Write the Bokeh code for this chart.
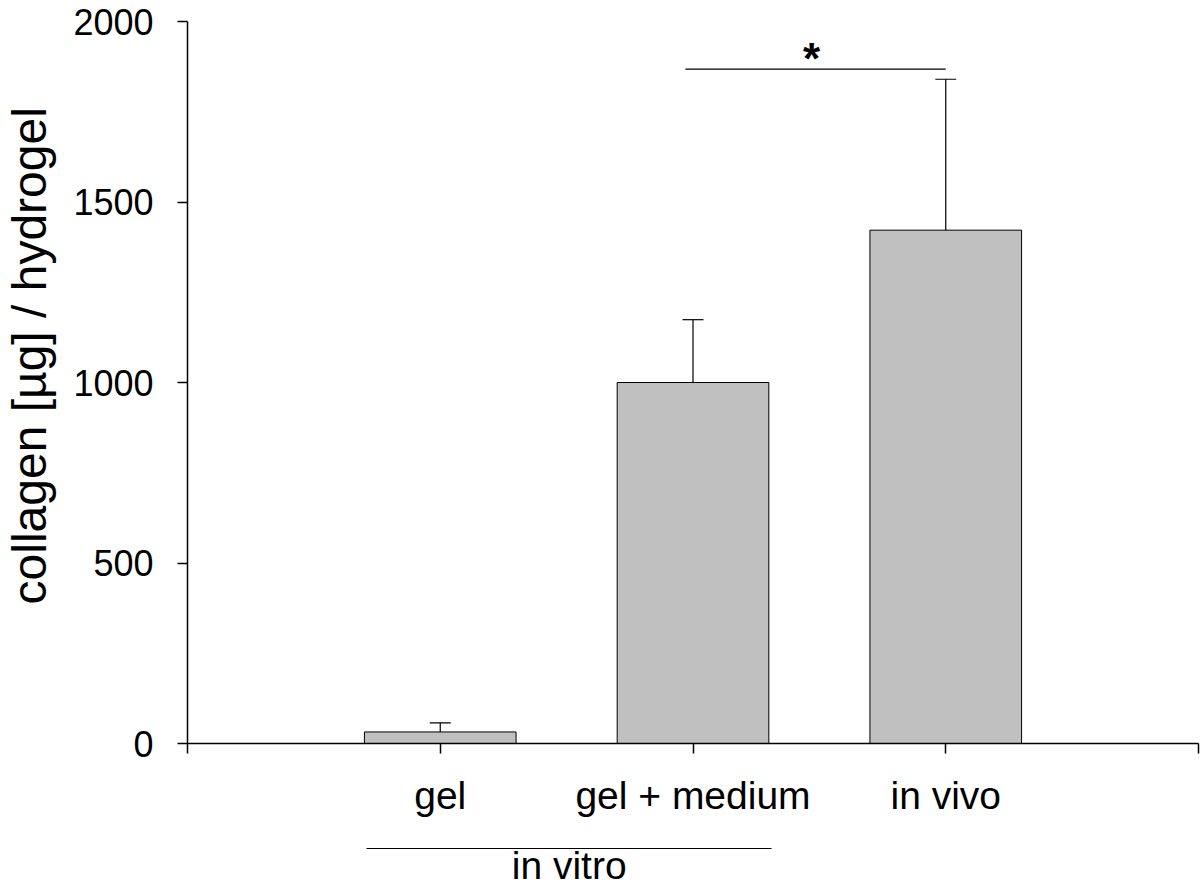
from bokeh.plotting import figure
from bokeh.models import (ColumnDataSource, FixedTicker, LinearAxis, Range1d,
                          Whisker, TeeHead)
from bokeh.core.properties import value
from bokeh.embed import file_html
from bokeh.resources import INLINE

# ---- data ----
categories = ["gel", "gel + medium", "in vivo"]
means = [32, 1000, 1422]
errors = [25, 174, 418]
y_ticks = [0, 500, 1000, 1500, 2000]
y_title = "collagen [µg] / hydrogel"
group_label = "in vitro"
group_bounds = (0.71, 2.31)
sig_x = [1.97, 3.0]
sig_y = 1868
sig_mark = "*"

FONT = "Liberation Sans"

xs = [i + 1 for i in range(len(categories))]
src = ColumnDataSource(dict(
    x=xs, top=means, upper=[m + e for m, e in zip(means, errors)]))

p = figure(width=1200, height=889, output_backend="svg", toolbar_location=None,
           x_range=Range1d(0, len(categories) + 1), y_range=Range1d(0, 2000),
           min_border_left=187, min_border_top=21, min_border_right=2,
           min_border_bottom=0, x_axis_location=None, y_axis_location=None)
p.outline_line_color = None
p.xgrid.visible = False
p.ygrid.visible = False
p.background_fill_color = "white"
p.border_fill_color = "white"

p.vbar(x="x", top="top", width=0.6, bottom=0, source=src,
       fill_color="#c0c0c0", line_color="black", line_width=1)

p.add_layout(Whisker(source=src, base="x", upper="upper", lower="top",
                     line_color="black", line_width=1.2,
                     upper_head=TeeHead(size=21, line_color="black", line_width=1.2),
                     lower_head=None))

# significance bracket
p.line(x=sig_x, y=[sig_y, sig_y], line_color="black", line_width=1.2)
p.text(x=[(sig_x[0] + sig_x[1]) / 2], y=[sig_y], text=[sig_mark],
       text_font=value(FONT), text_font_size="44px", text_font_style="bold",
       text_align="center", text_baseline="alphabetic", x_offset=-4, y_offset=-11,
       text_color="black")

def style_axis(ax, size):
    ax.axis_line_color = "black"
    ax.axis_line_width = 1.5
    ax.major_tick_line_color = "black"
    ax.major_tick_line_width = 1.5
    ax.major_tick_in = 0
    ax.major_tick_out = 10
    ax.minor_tick_line_color = None
    ax.major_label_text_font = FONT
    ax.major_label_text_font_size = size
    ax.major_label_text_color = "black"
    ax.axis_label_text_font = FONT
    ax.axis_label_text_font_style = "normal"
    ax.axis_label_text_color = "black"

# y axis (title shifted slightly upward with leading no-break spaces)
yax = LinearAxis(ticker=FixedTicker(ticks=y_ticks),
                 axis_label="\u00a0" * 4 + y_title)
style_axis(yax, "36px")
yax.major_label_standoff = 24
yax.axis_label_text_font_size = "48px"
yax.axis_label_standoff = 14
p.add_layout(yax, "left")

# x axis
xax = LinearAxis(ticker=FixedTicker(ticks=list(range(len(categories) + 2))))
style_axis(xax, "39px")
overrides = {0: "", len(categories) + 1: ""}
for i, c in enumerate(categories):
    overrides[i + 1] = c
xax.major_label_overrides = overrides
xax.major_label_standoff = 20
xax.axis_label = "\u00a0"
xax.axis_label_text_font_size = "23px"
xax.axis_label_standoff = 0
p.add_layout(xax, "below")

# group ("in vitro") axis
mid = (group_bounds[0] + group_bounds[1]) / 2
gax = LinearAxis(ticker=FixedTicker(ticks=[mid]), bounds=group_bounds)
style_axis(gax, "39px")
gax.axis_line_width = 1.2
gax.major_tick_out = 0
gax.major_label_standoff = -5
gax.major_label_overrides = {mid: group_label}
p.add_layout(gax, "below")

open("out.html", "w").write(file_html(p, INLINE))
